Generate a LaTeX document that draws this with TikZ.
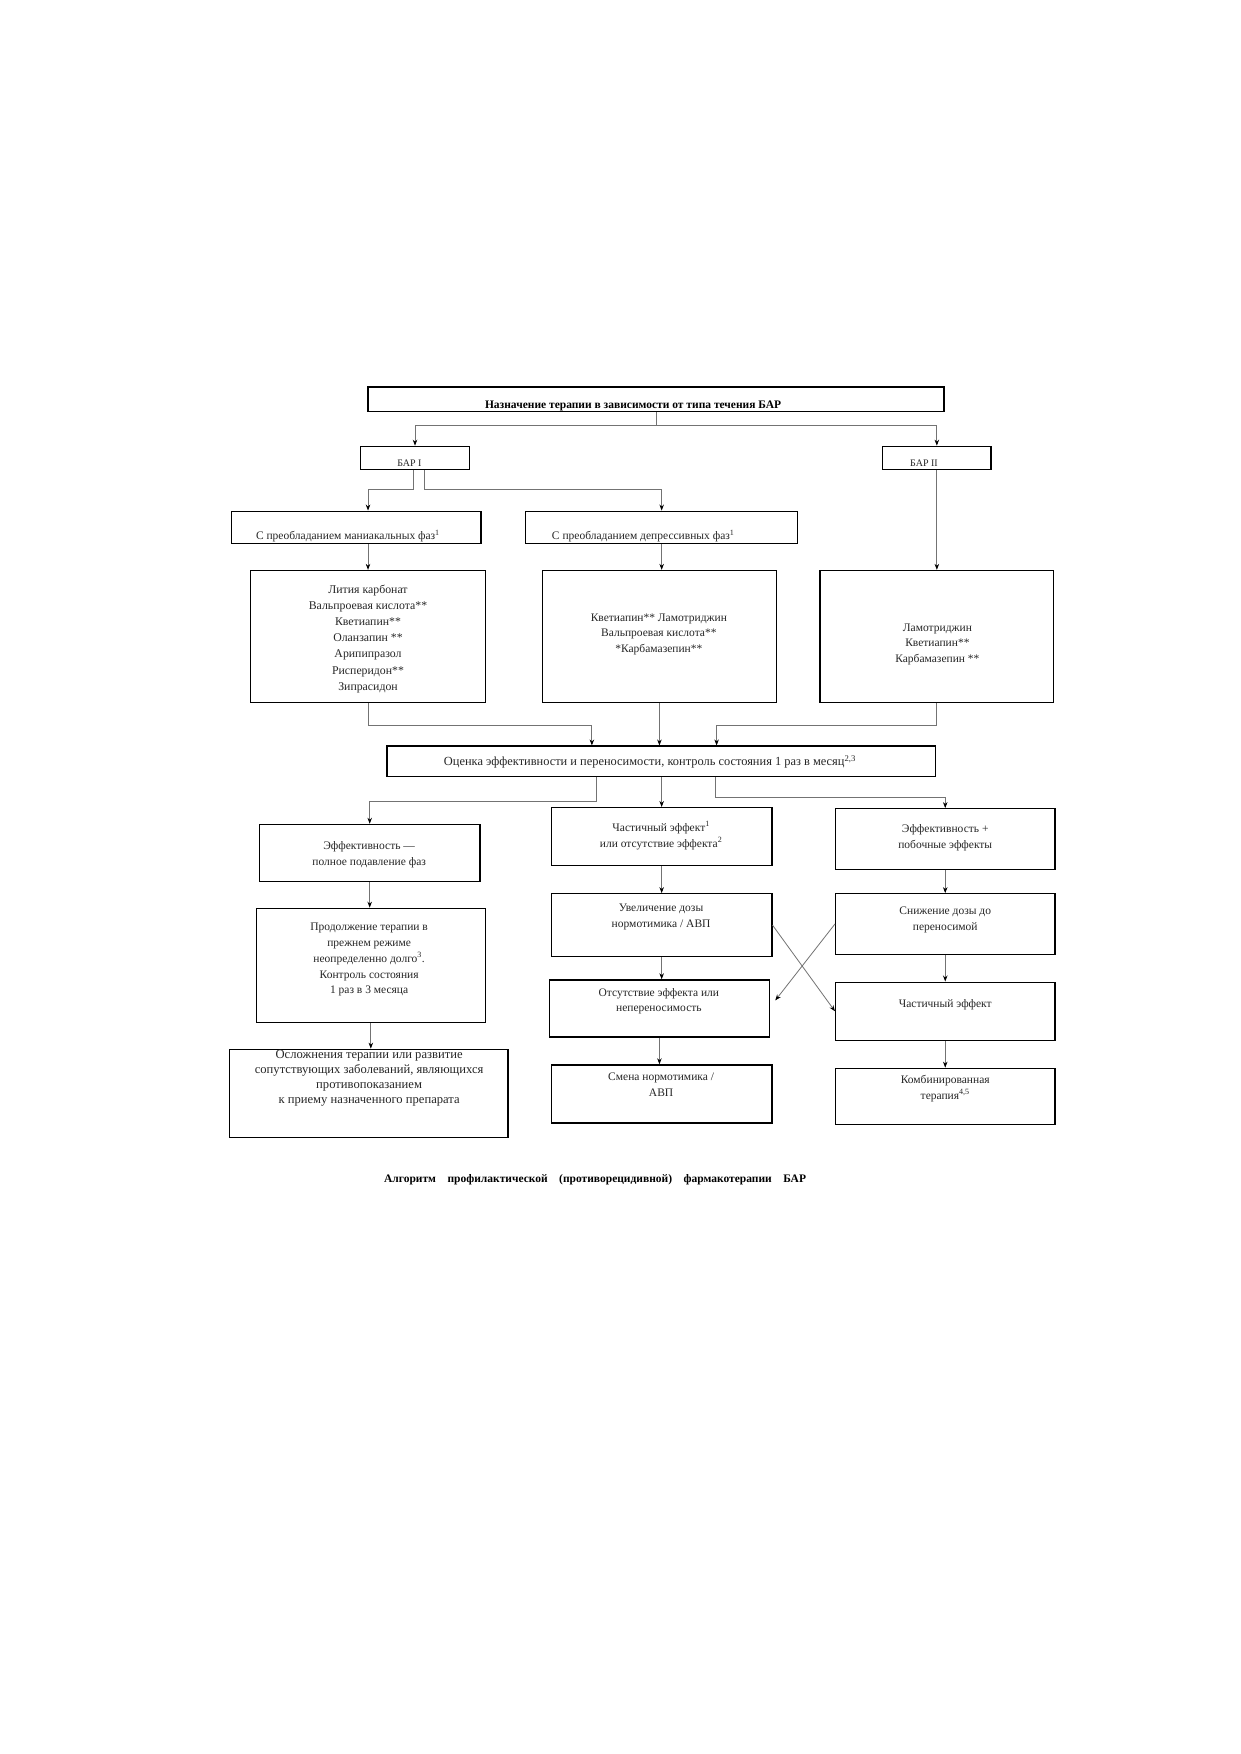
\documentclass[tikz,border=0pt]{standalone}
\usepackage{fontspec}
\setmainfont{Liberation Serif}
\usetikzlibrary{arrows.meta,fit,calc}
\begin{document}
\begin{tikzpicture}[x=1.1181pt,y=-1.1181pt,
  box/.style={draw=black,line width=1.3pt,inner sep=0pt},
  txt/.style={align=center,font=\fontsize{11.5}{15.8}\selectfont,inner sep=0pt,text=black!85},
  txtb/.style={align=center,font=\bfseries\fontsize{11.5}{15.8}\selectfont,inner sep=0pt},
  conn/.style={draw=black!55,line width=0.8pt},
  arr/.style={conn,-{Stealth[length=6pt,width=4.5pt,black]}}]
\useasboundingbox (0,0) rectangle (1109,1568);
\fill[white] (0,0) rectangle (1109,1568);

% boxes
\node[box,fit={(329,346)(844,368)}] (top) {};
\node[txtb] (ttop) at (566,363) {Назначение терапии в зависимости от типа течения БАР};
\node[box,fit={(322,399)(420,420)}] (bar1) {};
\node[txt,font=\fontsize{10}{12}\selectfont] (tbar1) at (366,414) {БАР I};
\node[box,fit={(789,399)(886,420)}] (bar2) {};
\node[txt,font=\fontsize{10}{12}\selectfont] (tbar2) at (826,414) {БАР II};

\node[box,fit={(207,457)(430,486)}] (M) {};
\node[txt] (tM) at (311,479) {С преобладанием маниакальных фаз\textsuperscript{1}};
\node[box,fit={(470,457)(713,486)}] (D) {};
\node[txt] (tD) at (575,479) {С преобладанием депрессивных фаз\textsuperscript{1}};

\node[box,fit={(224,510)(434,628)}] (L1) {};
\node[txt,font=\fontsize{11.8}{16.2}\selectfont] (tL1) at (329,571) {Лития карбонат\\Вальпроевая кислота**\\Кветиапин**\\Оланзапин **\\Арипипразол\\Рисперидон**\\Зипрасидон};
\node[box,fit={(485,510)(694,628)}] (L2) {};
\node[txt] (tL2) at (589,567) {Кветиапин** Ламотриджин\\Вальпроевая кислота**\\*Карбамазепин**};
\node[box,fit={(733,510)(942,628)}] (L3) {};
\node[txt] (tL3) at (838,576) {Ламотриджин\\Кветиапин**\\Карбамазепин **};

\node[box,fit={(346,667)(836,694)}] (ev) {};
\node[txt,font=\fontsize{12.4}{15.8}\selectfont] (tev) at (581,681) {Оценка эффективности и переносимости, контроль состояния 1 раз в месяц\textsuperscript{2,3}};

\node[box,fit={(232,737)(429,788)}] (E1) {};
\node[txt] (tE1) at (330,764) {Эффективность —\\полное подавление фаз};
\node[box,fit={(493,722)(690,774)}] (E2) {};
\node[txt] (tE2) at (591,747) {Частичный эффект\textsuperscript{1}\\или отсутствие эффекта\textsuperscript{2}};
\node[box,fit={(747,723)(943,777)}] (E3) {};
\node[txt] (tE3) at (845,749) {Эффективность +\\побочные эффекты};

\node[box,fit={(229,812)(434,914)}] (P) {};
\node[txt] (tP) at (330,858) {Продолжение терапии в\\прежнем режиме\\неопределенно долго\textsuperscript{3}.\\Контроль состояния\\1 раз в 3 месяца};
\node[box,fit={(493,799)(690,855)}] (Inc) {};
\node[txt] (tInc) at (591,820) {Увеличение дозы\\нормотимика / АВП};
\node[box,fit={(747,799)(943,853)}] (Red) {};
\node[txt] (tRed) at (845,822) {Снижение дозы до\\переносимой};
\node[box,fit={(491,876)(688,927)}] (Abs) {};
\node[txt] (tAbs) at (589,895) {Отсутствие эффекта или\\непереносимость};
\node[box,fit={(747,878)(943,930)}] (Part) {};
\node[txt] (tPart) at (845,898) {Частичный эффект};
\node[box,fit={(205,938)(454,1017)}] (Can) {};
\node[txt,font=\fontsize{12.6}{15}\selectfont] (tCan) at (330,964) {Осложнения терапии или развитие\\сопутствующих заболеваний, являющихся\\противопоказанием\\к приему назначенного препарата};
\node[box,fit={(493,952)(690,1004)}] (Chg) {};
\node[txt] (tChg) at (591,970) {Смена нормотимика /\\АВП};
\node[box,fit={(747,955)(943,1005)}] (Comb) {};
\node[txt] (tComb) at (845,973) {Комбинированная\\терапия\textsuperscript{4,5}};

\node[txtb] (cap) at (532,1055) {Алгоритм\quad профилактической\quad (противорецидивной)\quad фармакотерапии\quad БАР};

% connectors
\draw[conn] (top.south) -- ++(0,12) coordinate (j0);
\draw[arr] (j0) -| (bar1.north);
\draw[arr] (j0) -| (bar2.north);
\draw[arr] ([xshift=-2pt]bar1.south) -- ++(0,17) -| (M.north -| L1.north);
\draw[arr] ([xshift=9pt]bar1.south) -- ++(0,17) -| (D.north);
\draw[arr] (bar2.south) -- (L3.north);
\draw[arr] (M.south -| L1.north) -- (L1.north);
\draw[arr] (D.south) -- (D.south |- L2.north);
\draw[arr] (L1.south) -- ++(0,20) -| ($(ev.north west)!0.374!(ev.north east)$);
\draw[arr] (L2.south) -- (L2.south |- ev.north);
\draw[arr] (L3.south) -- ++(0,20) -| ($(ev.north west)!0.601!(ev.north east)$);
\draw[arr] ($(ev.south west)!0.382!(ev.south east)$) -- ++(0,22) -| (E1.north);
\draw[arr] (ev.south -| E2.north) -- (E2.north);
\draw[arr] ($(ev.south west)!0.598!(ev.south east)$) -- ++(0,18) -| (E3.north);
\draw[arr] (E1.south) -- (E1.south |- P.north);
\draw[arr] (P.south) -- (P.south |- Can.north);
\draw[arr] (E2.south) -- (E2.south |- Inc.north);
\draw[arr] (Inc.south) -- (Inc.south |- Abs.north);
\draw[arr] (Abs.south) -- (Abs.south |- Chg.north);
\draw[arr] (E3.south) -- (E3.south |- Red.north);
\draw[arr] (Red.south) -- (Red.south |- Part.north);
\draw[arr] (Part.south) -- (Part.south |- Comb.north);
\draw[arr] (Inc.east) -- (Part.west);
\draw[arr] (Red.west) -- ([xshift=5pt,yshift=8pt]Abs.east);
\end{tikzpicture}
\end{document}
